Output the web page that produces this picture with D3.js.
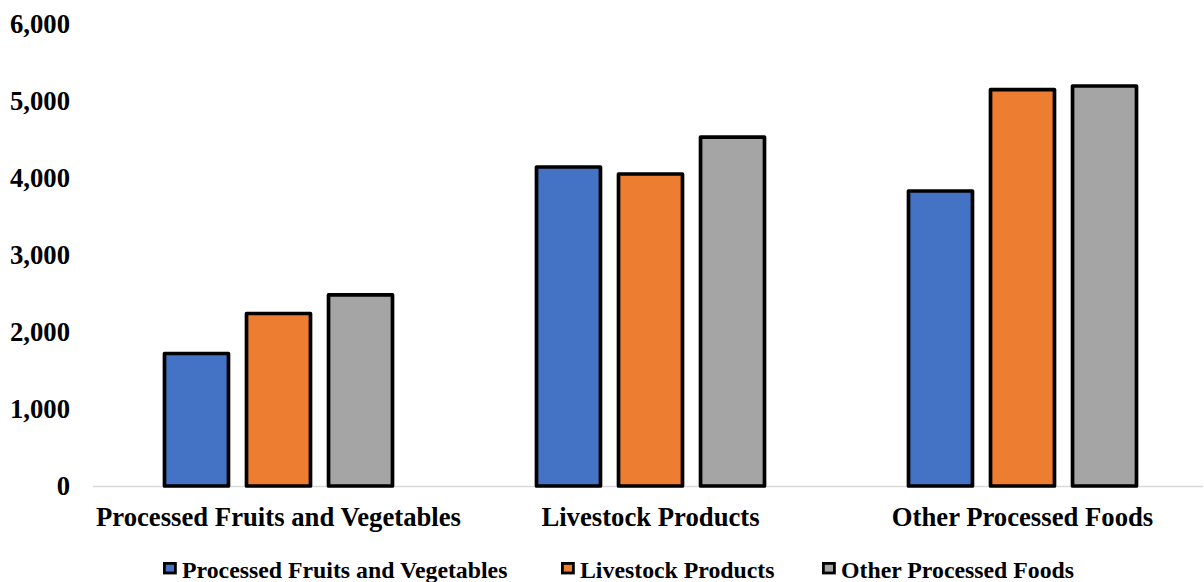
<!DOCTYPE html>
<html>
<head>
<meta charset="utf-8">
<script src="https://cdn.jsdelivr.net/npm/d3@7"></script>
<style>
  html, body { margin: 0; padding: 0; background: #fff; }
  svg { display: block; }
  text { font-family: "Liberation Serif", "Times New Roman", serif; font-weight: bold; fill: #000; }
</style>
</head>
<body>
<svg id="chart" width="1204" height="582"></svg>
<script>
const categories = ["Processed Fruits and Vegetables", "Livestock Products", "Other Processed Foods"];
const seriesNames = ["Processed Fruits and Vegetables", "Livestock Products", "Other Processed Foods"];
const seriesColors = ["#4472C4", "#ED7D31", "#A5A5A5"];
const valuesFruitsVeg = [1721, 4143, 3831];
const valuesLivestock = [2240, 4052, 5149];
const valuesOther = [2481, 4532, 5195];
const yTicks = [0, 1000, 2000, 3000, 4000, 5000, 6000];

const seriesValues = [valuesFruitsVeg, valuesLivestock, valuesOther];

const svg = d3.select("#chart");
const margin = { left: 92.5, right: -4.5, top: 24, bottom: 96 };
const W = 1204, H = 582;

const x0 = d3.scaleBand().domain(categories).range([margin.left, W - margin.right]).paddingInner(0).paddingOuter(0);
const x1 = d3.scaleBand().domain(seriesNames).range([0, x0.bandwidth()]).paddingInner(0.22).paddingOuter(0.878);
const y = d3.scaleLinear().domain([0, 6000]).range([486, 24]);

// baseline
svg.append("line")
  .attr("x1", 93).attr("x2", 1203)
  .attr("y1", y(0) + 0.5).attr("y2", y(0) + 0.5)
  .attr("stroke", "#d9d9d9").attr("stroke-width", 1.5);

// y axis labels
const yAxis = d3.axisLeft(y).tickValues(yTicks).tickFormat(d3.format(",")).tickSize(0).tickPadding(0);
const gy = svg.append("g").attr("transform", "translate(70,0)").call(yAxis);
gy.select(".domain").remove();
gy.selectAll("text").style("font-size", "26.7px").style("font-family", "'Liberation Serif', serif").style("font-weight", "bold").attr("fill", "#000");

// bars
const groups = svg.append("g").selectAll("g").data(categories).join("g")
  .attr("transform", d => `translate(${x0(d)},0)`);
groups.selectAll("rect")
  .data((c, ci) => seriesNames.map((s, si) => ({ s, si, v: seriesValues[si][ci] })))
  .join("rect")
  .attr("x", d => x1(d.s))
  .attr("width", x1.bandwidth())
  .attr("y", d => y(d.v))
  .attr("height", d => y(0) - y(d.v))
  .attr("fill", d => seriesColors[d.si])
  .attr("stroke", "#000")
  .attr("stroke-width", 3.7)
  .attr("stroke-linejoin", "round");

// x axis labels
const xAxis = d3.axisBottom(x0).tickSize(0).tickPadding(0);
const gx = svg.append("g").attr("transform", "translate(0,506)").call(xAxis);
gx.select(".domain").remove();
gx.selectAll("text").attr("dy", "0.75em").style("font-size", "26.7px").style("font-family", "'Liberation Serif', serif").style("font-weight", "bold").attr("fill", "#000");

// legend
const legendX = [163, 561, 822];
const legend = svg.append("g").selectAll("g").data(seriesNames).join("g")
  .attr("transform", (d, i) => `translate(${legendX[i]},0)`);
legend.append("rect")
  .attr("x", 1.4).attr("y", 563.4).attr("width", 11).attr("height", 9.6)
  .attr("fill", (d, i) => seriesColors[i])
  .attr("stroke", "#000").attr("stroke-width", 2.8);
legend.append("text")
  .attr("x", 19).attr("y", 577.5)
  .style("font-size", "23.8px")
  .text(d => d);
</script>
</body>
</html>
